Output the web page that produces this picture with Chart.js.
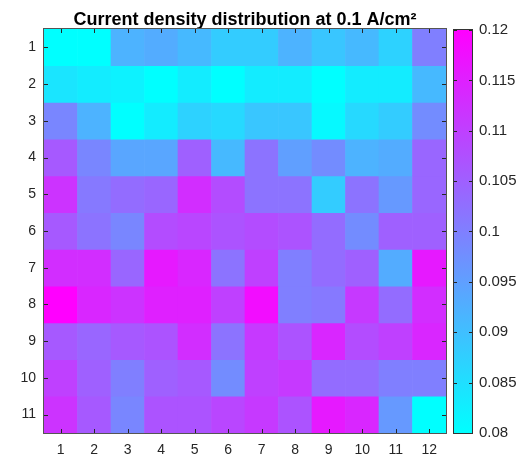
<!DOCTYPE html>
<html>
<head>
<meta charset="utf-8">
<script src="https://cdn.jsdelivr.net/npm/chart.js@4"></script>
<style>
  html, body { margin: 0; padding: 0; background: #ffffff; }
  #wrap { position: relative; width: 529px; height: 462px; }
  #mapa { position: absolute; left: 0; top: 0; }
  #barra { position: absolute; left: 440px; top: 0; }
</style>
</head>
<body>
<div id="wrap">
  <canvas id="mapa" width="529" height="462"></canvas>
  <canvas id="barra" width="89" height="462"></canvas>
</div>
<script>
// columnas (eje x) y filas (eje y)
const columnas = ['1', '2', '3', '4', '5', '6', '7', '8', '9', '10', '11', '12'];
const filas = [1, 2, 3, 4, 5, 6, 7, 8, 9, 10, 11];

const fila1  = [0.080, 0.080, 0.092, 0.093, 0.091, 0.088, 0.088, 0.092, 0.089, 0.091, 0.087, 0.100];
const fila2  = [0.084, 0.083, 0.082, 0.080, 0.083, 0.080, 0.083, 0.083, 0.080, 0.083, 0.083, 0.091];
const fila3  = [0.099, 0.092, 0.080, 0.083, 0.087, 0.086, 0.089, 0.089, 0.081, 0.086, 0.088, 0.098];
const fila4  = [0.106, 0.099, 0.094, 0.094, 0.105, 0.091, 0.102, 0.095, 0.098, 0.092, 0.093, 0.104];
const fila5  = [0.112, 0.101, 0.103, 0.104, 0.113, 0.108, 0.102, 0.102, 0.088, 0.102, 0.096, 0.104];
const fila6  = [0.106, 0.102, 0.099, 0.108, 0.109, 0.107, 0.108, 0.107, 0.103, 0.098, 0.105, 0.105];
const fila7  = [0.113, 0.113, 0.104, 0.116, 0.114, 0.102, 0.110, 0.100, 0.103, 0.105, 0.093, 0.116];
const fila8  = [0.120, 0.114, 0.112, 0.115, 0.115, 0.110, 0.118, 0.100, 0.101, 0.111, 0.103, 0.113];
const fila9  = [0.106, 0.104, 0.106, 0.107, 0.113, 0.102, 0.111, 0.107, 0.114, 0.108, 0.110, 0.114];
const fila10 = [0.110, 0.105, 0.100, 0.105, 0.106, 0.098, 0.110, 0.111, 0.103, 0.103, 0.100, 0.100];
const fila11 = [0.112, 0.106, 0.099, 0.107, 0.107, 0.109, 0.111, 0.107, 0.116, 0.114, 0.096, 0.080];
const valores = [fila1, fila2, fila3, fila4, fila5, fila6, fila7, fila8, fila9, fila10, fila11];

// limites de la escala de color y ticks de la barra
const cMin = 0.08;
const cMax = 0.12;
const ticksBarra = [0.08, 0.085, 0.09, 0.095, 0.1, 0.105, 0.11, 0.115, 0.12];

const TEXTO = '#262626';
const FUENTE = "'Liberation Sans', Arial, sans-serif";

// mapa de color "cool" (cian -> magenta)
function cool(v) {
    let t = (v - cMin) / (cMax - cMin);
    t = Math.max(0, Math.min(1, t));
    const r = Math.round(255 * t);
    const g = Math.round(255 * (1 - t));
    return `rgb(${r},${g},255)`;
}

// marcas de tick hacia adentro en los cuatro lados + marco
const marcasInternas = {
    id: 'marcasInternas',
    afterDatasetsDraw(chart, args, opts) {
        const { ctx, chartArea: a } = chart;
        const largo = opts.largo || 4;
        ctx.save();
        ctx.strokeStyle = TEXTO;
        ctx.lineWidth = 1;
        Object.values(chart.scales).forEach(s => {
            if (!s.options.display) return;
            s.ticks.forEach((tk, i) => {
                const p = Math.round(s.getPixelForTick(i)) + 0.5;
                ctx.beginPath();
                if (s.isHorizontal()) {
                    ctx.moveTo(p, a.bottom); ctx.lineTo(p, a.bottom - largo);
                    ctx.moveTo(p, a.top); ctx.lineTo(p, a.top + largo);
                } else {
                    ctx.moveTo(a.left, p); ctx.lineTo(a.left + largo, p);
                    ctx.moveTo(a.right, p); ctx.lineTo(a.right - largo, p);
                }
                ctx.stroke();
            });
        });
        ctx.strokeStyle = opts.marco || '#555555';
        ctx.strokeRect(a.left - 0.5, a.top - 0.5, a.right - a.left + 1, a.bottom - a.top + 1);
        ctx.restore();
    }
};

// 1. Mapa de calor (barras flotantes, una serie por fila)
const datasetsMapa = filas.map((f, i) => ({
    label: 'Fila ' + f,
    data: columnas.map(() => [f - 0.5, f + 0.5]),
    backgroundColor: valores[i].map(cool),
    borderWidth: 0,
    barPercentage: 1,
    categoryPercentage: 1,
    grouped: false
}));

new Chart(document.getElementById('mapa').getContext('2d'), {
    type: 'bar',
    data: { labels: columnas, datasets: datasetsMapa },
    options: {
        responsive: false,
        animation: false,
        layout: { padding: { left: 0, right: 83, top: 0, bottom: 0 } },
        scales: {
            x: {
                grid: { display: false, drawTicks: false },
                border: { display: false },
                ticks: { color: TEXTO, font: { family: FUENTE, size: 14 }, padding: 9, maxRotation: 0 },
                afterFit(s) { s.height = 29; }
            },
            y: {
                min: 0.5,
                max: 11.5,
                reverse: true,
                grid: { display: false, drawTicks: false },
                border: { display: false },
                afterBuildTicks(s) { s.ticks = filas.map(v => ({ value: v })); },
                ticks: { color: TEXTO, font: { family: FUENTE, size: 14 }, padding: 8 },
                afterFit(s) { s.width = 44; }
            }
        },
        plugins: {
            legend: { display: false },
            tooltip: { enabled: false },
            title: {
                display: true,
                fullSize: false,
                text: 'Current density distribution at 0.1 A/cm²',
                color: '#000000',
                font: { family: FUENTE, size: 18, weight: 'bold', lineHeight: 1 },
                padding: { top: 11, bottom: 0 }
            },
            marcasInternas: { largo: 4 }
        }
    },
    plugins: [marcasInternas]
});

// 2. Barra de color
new Chart(document.getElementById('barra').getContext('2d'), {
    type: 'bar',
    data: {
        labels: [''],
        datasets: [{
            data: [[cMin, cMax]],
            backgroundColor(context) {
                const a = context.chart.chartArea;
                if (!a) return '#8080ff';
                const g = context.chart.ctx.createLinearGradient(0, a.bottom, 0, a.top);
                g.addColorStop(0, cool(cMin));
                g.addColorStop(1, cool(cMax));
                return g;
            },
            borderWidth: 0,
            barPercentage: 1,
            categoryPercentage: 1
        }]
    },
    options: {
        responsive: false,
        animation: false,
        layout: { padding: { left: 14, right: 0, top: 30, bottom: 29 } },
        scales: {
            x: { display: false },
            y: {
                position: 'right',
                min: cMin,
                max: cMax,
                grid: { display: false, drawTicks: false },
                border: { display: false },
                afterBuildTicks(s) { s.ticks = ticksBarra.map(v => ({ value: v })); },
                ticks: {
                    color: TEXTO,
                    font: { family: FUENTE, size: 15 },
                    padding: 7,
                    callback: v => String(parseFloat(v.toFixed(3)))
                },
                afterFit(s) { s.width = 57; }
            }
        },
        plugins: {
            legend: { display: false },
            tooltip: { enabled: false },
            marcasInternas: { largo: 3, marco: '#333333' }
        }
    },
    plugins: [marcasInternas]
});
</script>
</body>
</html>
